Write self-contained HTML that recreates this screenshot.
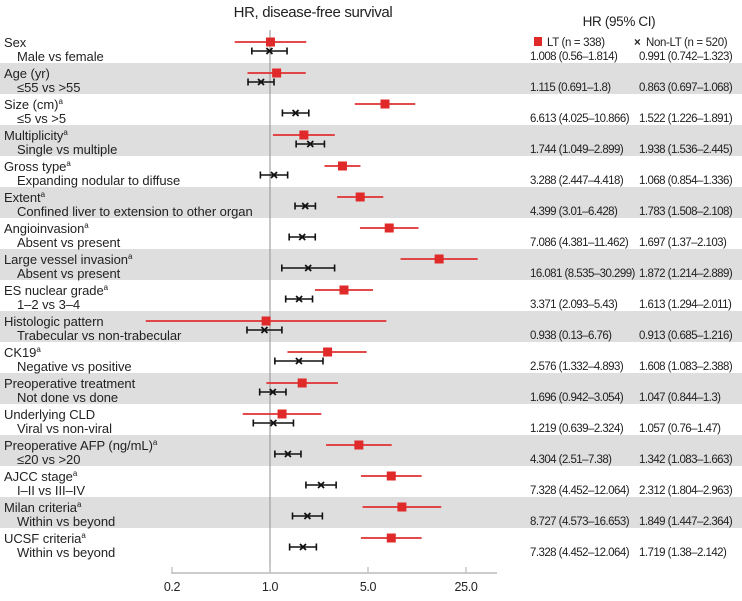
<!DOCTYPE html>
<html><head><meta charset="utf-8"><style>
body{margin:0;background:#fff}
svg{display:block;font-family:"Liberation Sans",sans-serif}
text{font-size:11.5px;fill:#222;letter-spacing:-0.35px}
text.lab{font-size:13px;letter-spacing:-0.05px}
text.val{letter-spacing:-0.55px}
</style></head><body>
<svg id="chart" width="742" height="601" xmlns="http://www.w3.org/2000/svg">
<g id="bands"></g>
<text x="313" y="17" text-anchor="middle" style="font-size:15px">HR, disease-free survival</text>
<text x="619" y="26" text-anchor="middle" style="font-size:13.5px">HR (95% CI)</text>
<rect x="534" y="37" width="8" height="9" fill="#e02a2a"/>
<text x="547" y="46">LT (n = 338)</text>
<text x="634" y="46" font-weight="bold" font-size="11">×</text>
<text x="646" y="46">Non-LT (n = 520)</text>
<line x1="270" y1="30" x2="270" y2="573" stroke="#a0a0a0" stroke-width="1.2"/>
<g id="marks"></g>
<g id="axis"></g>
</svg>
<script>
const groups=["Sex","Age (yr)","Size (cm)","Multiplicity","Gross type","Extent","Angioinvasion","Large vessel invasion","ES nuclear grade","Histologic pattern","CK19","Preoperative treatment","Underlying CLD","Preoperative AFP (ng/mL)","AJCC stage","Milan criteria","UCSF criteria"];
const superA=[0,0,1,1,1,1,1,1,1,0,1,0,0,1,1,1,1];
const comparisons=["Male vs female","≤55 vs >55","≤5 vs >5","Single vs multiple","Expanding nodular to diffuse","Confined liver to extension to other organ","Absent vs present","Absent vs present","1–2 vs 3–4","Trabecular vs non-trabecular","Negative vs positive","Not done vs done","Viral vs non-viral","≤20 vs >20","I–II vs III–IV","Within vs beyond","Within vs beyond"];
const ltHR=[1.008,1.115,6.613,1.744,3.288,4.399,7.086,16.081,3.371,0.938,2.576,1.696,1.219,4.304,7.328,8.727,7.328];
const ltLo=[0.56,0.691,4.025,1.049,2.447,3.01,4.381,8.535,2.093,0.13,1.332,0.942,0.639,2.51,4.452,4.573,4.452];
const ltHi=[1.814,1.8,10.866,2.899,4.418,6.428,11.462,30.299,5.43,6.76,4.893,3.054,2.324,7.38,12.064,16.653,12.064];
const nlHR=[0.991,0.863,1.522,1.938,1.068,1.783,1.697,1.872,1.613,0.913,1.608,1.047,1.057,1.342,2.312,1.849,1.719];
const nlLo=[0.742,0.697,1.226,1.536,0.854,1.508,1.37,1.214,1.294,0.685,1.083,0.844,0.76,1.083,1.804,1.447,1.38];
const nlHi=[1.323,1.068,1.891,2.445,1.336,2.108,2.103,2.889,2.011,1.216,2.388,1.3,1.47,1.663,2.963,2.364,2.142];
const ltText=["1.008 (0.56–1.814)","1.115 (0.691–1.8)","6.613 (4.025–10.866)","1.744 (1.049–2.899)","3.288 (2.447–4.418)","4.399 (3.01–6.428)","7.086 (4.381–11.462)","16.081 (8.535–30.299)","3.371 (2.093–5.43)","0.938 (0.13–6.76)","2.576 (1.332–4.893)","1.696 (0.942–3.054)","1.219 (0.639–2.324)","4.304 (2.51–7.38)","7.328 (4.452–12.064)","8.727 (4.573–16.653)","7.328 (4.452–12.064)"];
const nlText=["0.991 (0.742–1.323)","0.863 (0.697–1.068)","1.522 (1.226–1.891)","1.938 (1.536–2.445)","1.068 (0.854–1.336)","1.783 (1.508–2.108)","1.697 (1.37–2.103)","1.872 (1.214–2.889)","1.613 (1.294–2.011)","0.913 (0.685–1.216)","1.608 (1.083–2.388)","1.047 (0.844–1.3)","1.057 (0.76–1.47)","1.342 (1.083–1.663)","2.312 (1.804–2.963)","1.849 (1.447–2.364)","1.719 (1.38–2.142)"];
const ticks=[0.2,1.0,5.0,25.0];
const tickLabels=["0.2","1.0","5.0","25.0"];
const NS="http://www.w3.org/2000/svg";
const xS=v=>270+140.2*Math.log10(v);
const rowTop=i=>32+31*i;
function mk(tag,attrs,parent,txt){const e=document.createElementNS(NS,tag);for(const k in attrs)e.setAttribute(k,attrs[k]);if(txt!==undefined)e.textContent=txt;parent.appendChild(e);return e;}
const bandsG=document.getElementById('bands'),marksG=document.getElementById('marks'),axisG=document.getElementById('axis'),svgEl=document.getElementById('chart');
groups.forEach((g,i)=>{
  const t=rowTop(i);
  if(i%2===1){const b=mk('rect',{x:0,y:t,width:742,height:31,fill:'#dedede'},bandsG);
    
    }
  const l=mk('text',{x:4,y:t+15,class:'lab'},svgEl,g);
  
  
  if(superA[i]){mk('tspan',{'font-size':'8',dy:'-5'},l,'a');}
  const c=mk('text',{x:17,y:t+29,class:'lab'},svgEl,comparisons[i]);
  
  
  const v1=mk('text',{x:530,y:t+28,class:'val'},svgEl,ltText[i]);
  
  
  const v2=mk('text',{x:639,y:t+28,class:'val'},svgEl,nlText[i]);
  
  
  const ry=t+10;
  const rl=mk('line',{x1:xS(ltLo[i]),x2:xS(ltHi[i]),y1:ry,y2:ry,stroke:'#e03030','stroke-width':1.8},marksG);
  
  
  const rs=mk('rect',{x:xS(ltHR[i])-4.5,y:ry-4.5,width:9,height:9,fill:'#e02a2a'},marksG);
  
  
  const by=t+19;
  const g2=mk('g',{stroke:'#111','stroke-width':1.6},marksG);
  
  
  mk('line',{x1:xS(nlLo[i]),x2:xS(nlHi[i]),y1:by,y2:by},g2);
  mk('line',{x1:xS(nlLo[i]),x2:xS(nlLo[i]),y1:by-3.5,y2:by+3.5},g2);
  mk('line',{x1:xS(nlHi[i]),x2:xS(nlHi[i]),y1:by-3.5,y2:by+3.5},g2);
  const cx=xS(nlHR[i]);
  const p=mk('path',{d:`M${cx-3} ${by-3}L${cx+3} ${by+3}M${cx+3} ${by-3}L${cx-3} ${by+3}`,'stroke-width':1.8},g2);
  
  
});
const al=mk('line',{x1:171,x2:497,y1:573,y2:573,stroke:'#bbb','stroke-width':1.5},axisG);


ticks.forEach((v,k)=>{
  const tk=mk('line',{x1:xS(v),x2:xS(v),y1:567,y2:573,stroke:'#bbb','stroke-width':1.2},axisG);
  
  
  const tl=mk('text',{x:xS(v),y:591,'text-anchor':'middle',style:'font-size:12.5px'},axisG,tickLabels[k]);
  
  
});
</script>
</body></html>
